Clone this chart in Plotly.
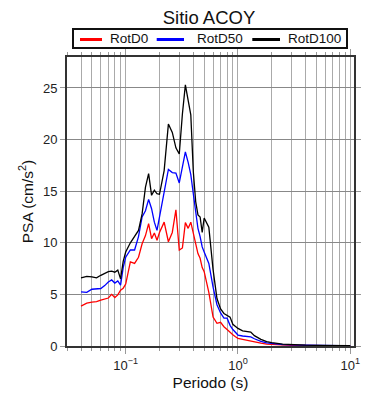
import plotly.graph_objects as go
import numpy as np

periods = [0.04, 0.045, 0.05, 0.055, 0.06, 0.065, 0.07, 0.075, 0.08, 0.085, 0.09, 0.095,
           0.10, 0.11, 0.12, 0.13, 0.14, 0.15, 0.16, 0.17, 0.18, 0.19, 0.20, 0.22, 0.24,
           0.26, 0.28, 0.30, 0.32, 0.34, 0.36, 0.38, 0.40, 0.42, 0.44, 0.46, 0.48, 0.50,
           0.55, 0.60, 0.65, 0.70, 0.75, 0.80, 0.85, 0.90, 0.95, 1.0, 1.1, 1.2, 1.3, 1.4,
           1.5, 1.6, 1.8, 2.0, 2.5, 3.0, 3.5, 4.0, 5.0, 6.0, 7.0, 8.0, 10.0]

rotd0 = [3.86, 4.15, 4.25, 4.3, 4.45, 4.55, 4.65, 5.0, 4.7, 4.95, 5.4, 5.6,
         6.0, 8.15, 8.0, 8.6, 9.9, 10.7, 11.85, 10.4, 10.95, 10.25, 11.0, 12.0, 10.1,
         11.0, 13.2, 9.3, 9.5, 11.95, 11.4, 12.0, 10.9, 9.9, 8.95, 8.5, 7.6, 7.2,
         5.2, 2.8, 2.2, 2.3, 1.87, 1.6, 1.29, 1.1, 0.9, 0.74, 0.65, 0.55, 0.5, 0.4,
         0.33, 0.27, 0.19, 0.15, 0.09, 0.07, 0.05, 0.04, 0.03, 0.025, 0.02, 0.018, 0.015]

rotd50 = [5.25, 5.2, 5.5, 5.55, 5.57, 5.85, 6.2, 6.4, 6.1, 6.3, 5.9, 7.6,
          8.6, 9.3, 9.3, 10.6, 12.5, 13.1, 14.2, 13.3, 12.0, 11.2, 12.5, 14.6, 17.1,
          16.8, 16.75, 15.8, 17.4, 18.8, 17.8, 16.6, 14.75, 12.8, 11.4, 10.6, 9.6, 9.1,
          8.0, 5.7, 4.0, 3.2, 2.7, 2.7, 2.0, 1.6, 1.3, 1.06, 0.97, 0.95, 0.88, 0.7,
          0.55, 0.45, 0.3, 0.24, 0.14, 0.1, 0.08, 0.06, 0.045, 0.04, 0.03, 0.028, 0.022]

rotd100 = [6.6, 6.75, 6.7, 6.6, 6.85, 7.0, 7.2, 7.25, 7.15, 7.35, 6.5, 8.2,
           9.1, 10.0, 10.6, 11.2, 12.8, 15.4, 16.7, 14.6, 15.1, 14.75, 14.7, 17.0, 21.5,
           20.7, 19.2, 18.6, 22.5, 25.3, 23.8, 22.4, 16.9, 14.0, 12.7, 12.5, 11.0, 12.4,
           11.5, 7.4, 4.6, 3.6, 3.15, 2.95, 2.8, 2.1, 1.85, 1.7, 1.47, 1.4, 1.35, 1.0,
           0.8, 0.65, 0.42, 0.32, 0.19, 0.13, 0.1, 0.08, 0.06, 0.05, 0.04, 0.035, 0.03]

series_names = ["RotD0", "RotD50", "RotD100"]
series_values = [rotd0, rotd50, rotd100]
series_colors = ["#ff0000", "#0000ff", "#000000"]

x_major = [0.1, 1, 10]
x_major_text = ["10<sup>\u22121</sup>", "10<sup>0</sup>", "10<sup>1</sup>"]
x_minor = [m * 10.0 ** e for e in (-2, -1, 0) for m in range(2, 10)]
x_minor = [v for v in x_minor if 0.03 <= v <= 10.8]

# layout geometry (pixels in figure)
FW, FH = 390, 400
L, T, PW, PH = 59, 49, 287, 289
R, B = FW - L - PW, FH - T - PH

def px(xp):
    return (xp - L) / PW

def py(yp):
    return (T + PH - yp) / PH

fig = go.Figure()
for name, vals, col in zip(series_names, series_values, series_colors):
    fig.add_trace(go.Scatter(x=periods, y=vals, mode="lines", name=name,
                             line=dict(color=col, width=1.3), showlegend=False))

# legend box (drawn manually to match the compact frame)
shapes = [dict(type="rect", xref="paper", yref="paper",
               x0=px(65), x1=px(339), y0=py(40), y1=py(21),
               line=dict(color="#111", width=2), fillcolor="white")]
annotations = []
leg_line_x = [(72, 94), (148.7, 176), (244.3, 272)]
leg_text_x = [99.7, 187, 277.7]
for (x0, x1), tx, name, col in zip(leg_line_x, leg_text_x, series_names, series_colors):
    shapes.append(dict(type="line", xref="paper", yref="paper",
                       x0=px(x0), x1=px(x1), y0=py(31.5), y1=py(31.5),
                       line=dict(color=col, width=3)))
    annotations.append(dict(text=name, xref="paper", yref="paper", x=px(tx), y=py(30.5),
                            xanchor="left", yanchor="middle", showarrow=False,
                            font=dict(size=13.5, color="#111")))

font = "Liberation Sans, Arial, sans-serif"
fig.update_layout(
    width=FW, height=FH,
    margin=dict(l=L, r=R, t=T, b=B, autoexpand=False),
    paper_bgcolor="white", plot_bgcolor="white",
    font=dict(family=font, size=13, color="#222"),
    title=dict(text="Sitio ACOY", xref="container", yref="container",
               x=201 / FW, xanchor="center", y=1.0, yanchor="top",
               pad=dict(t=3.5, b=0, l=0, r=0),
               font=dict(size=18.5, color="#111")),
    showlegend=False,
    shapes=shapes,
    annotations=annotations,
)
fig.update_xaxes(
    type="log", range=[np.log10(0.03), np.log10(10.8)],
    tickmode="array", tickvals=x_major, ticktext=x_major_text,
    ticks="outside", ticklen=6, tickcolor="#999", mirror="allticks",
    showline=True, linecolor="#333", linewidth=2,
    showgrid=True, gridcolor="#aaa", gridwidth=1,
    minor=dict(tickmode="array", tickvals=x_minor, ticks="outside", ticklen=3,
               tickcolor="#999", showgrid=True, gridcolor="#aaa", gridwidth=1),
    title=dict(text="Periodo (s)", font=dict(size=15.5, color="#111"), standoff=6),
    tickfont=dict(size=13, color="#222"), zeroline=False,
)
fig.update_yaxes(
    range=[0, 28], dtick=5, tick0=0,
    ticks="outside", ticklen=5, tickcolor="#999", mirror="allticks",
    showline=True, linecolor="#333", linewidth=2,
    showgrid=True, gridcolor="#888", gridwidth=1,
    title=dict(text="PSA (cm/s<sup>2</sup>)", font=dict(size=15.5, color="#111"), standoff=6),
    tickfont=dict(size=13, color="#222"), zeroline=False,
)
fig.write_html("out.html")
